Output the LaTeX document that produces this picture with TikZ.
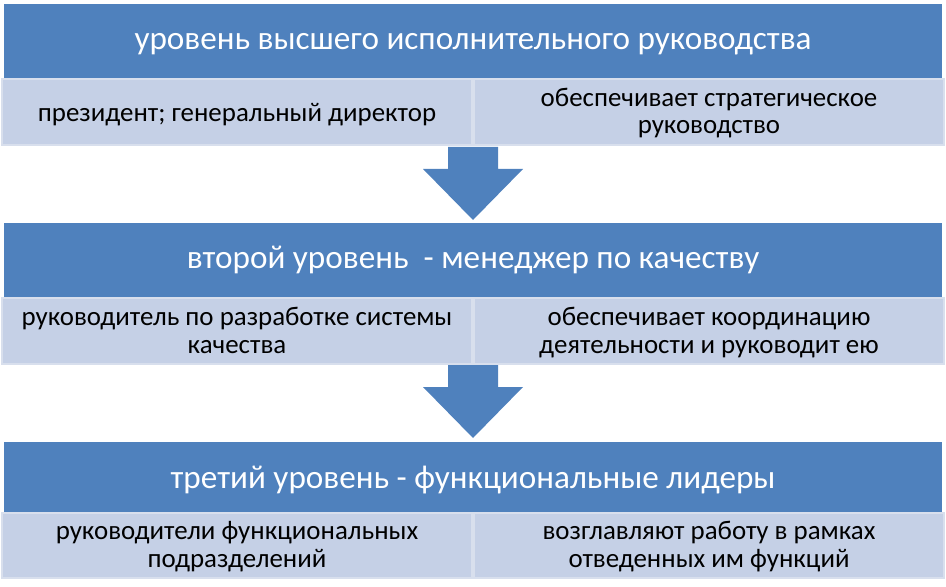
\documentclass[tikz,border=0pt]{standalone}
\usepackage{fontspec}
\setmainfont{Carlito}
\usepackage{tikz}

\definecolor{levelblue}{RGB}{79,129,189}
\definecolor{cellfill}{RGB}{197,208,230}
\definecolor{cellline}{RGB}{216,223,237}

\tikzset{
  levelhead/.style={rectangle, fill=levelblue, text=white, inner sep=0pt,
    minimum width=938bp, text height=18bp, text depth=0pt,
    font=\fontsize{33.3}{38}\selectfont},
  levelcell/.style={rectangle, fill=cellfill, draw=cellline, line width=2bp,
    inner sep=0pt, minimum width=470bp, align=center, text depth=0pt,
    font=\fontsize{27}{28}\selectfont},
  oneline/.style={levelcell, text height=20bp},
  twoline/.style={levelcell, text height=44bp},
  levelarrow/.style={fill=levelblue}
}

\begin{document}
\begin{tikzpicture}[x=1bp, y=-1bp]
\useasboundingbox (0,0) rectangle (946,587);

\node (top) at (473,41) [levelhead, minimum height=74bp] {уровень высшего исполнительного руководства};
\node (topL) at (237,112) [oneline, minimum height=66bp] {президент; генеральный директор};
\node (topR) at (709,112) [twoline, minimum height=66bp] {обеспечивает стратегическое\\руководство};

\node (mid) at (473,260) [levelhead, minimum height=74bp] {второй уровень\ \ - менеджер по качеству};
\node (midL) at (237,331) [twoline, minimum height=66bp] {руководитель по разработке системы\\качества};
\node (midR) at (709,331) [twoline, minimum height=66bp] {обеспечивает координацию\\деятельности и руководит ею};

\node (low) at (473,477) [levelhead, minimum height=70bp, text height=22bp] {третий уровень - функциональные лидеры};
\node (lowL) at (237,545.5) [twoline, minimum height=65bp] {руководители функциональных\\подразделений};
\node (lowR) at (709,545.5) [twoline, minimum height=65bp] {возглавляют работу в рамках\\отведенных им функций};

% block arrows between the levels
\foreach \y in {147,365} {
  \fill[levelarrow] (448,\y) -- ++(50,0) -- ++(0,22) -- ++(25,0) -- ++(-50,51)
    -- ++(-50,-51) -- ++(25,0) -- cycle;
}
\end{tikzpicture}
\end{document}
